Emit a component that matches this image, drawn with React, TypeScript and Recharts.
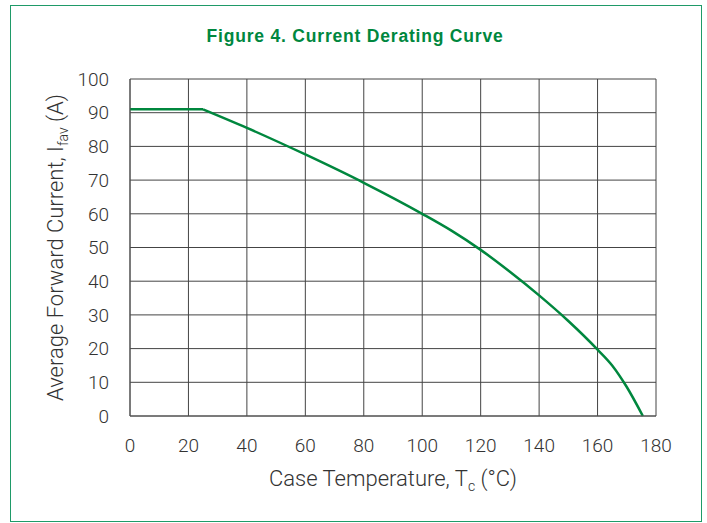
import React from 'react';
import { LineChart, Line, XAxis, YAxis, CartesianGrid } from 'recharts';

// Flat part of the curve (full rated current)
const flatTemp = [0, 25];
const flatCurrent = [91, 91];

// Derating part
const derateTemp = [25, 40, 60, 80, 100, 110, 120, 130, 140, 150, 160, 165, 170, 175.5];
const derateCurrent = [91, 85.5, 77.6, 69.2, 60, 55, 49.3, 42.8, 35.8, 28.2, 19.7, 15, 8.6, 0];

const xTicks = [0, 20, 40, 60, 80, 100, 120, 140, 160, 180];
const yTicks = [0, 10, 20, 30, 40, 50, 60, 70, 80, 90, 100];

const GREEN = '#00873e';
const TEXT = '#333';
const FONT = 'Roboto, "Liberation Sans", Arial, sans-serif';

const flatData = flatTemp.map((t, i) => ({ t, a: flatCurrent[i] }));
const derateData = derateTemp.map((t, i) => ({ t, a: derateCurrent[i] }));

const tickStyle = { fill: TEXT, fontSize: 19, fontFamily: FONT, fontWeight: 300 };

const XLabel = (props: any) => {
  const { viewBox } = props;
  const cx = viewBox.x + viewBox.width / 2;
  return (
    <text x={cx} y={486} textAnchor="middle" fill={TEXT} fontSize={22} fontFamily={FONT} fontWeight={300}>
      Case Temperature, T<tspan fontSize={14} dy={5}>c</tspan>
      <tspan dy={-5}> (°C)</tspan>
    </text>
  );
};

const YLabel = (props: any) => {
  const { viewBox } = props;
  const cy = viewBox.y + viewBox.height / 2;
  return (
    <text
      x={0}
      y={0}
      transform={`translate(63, ${cy}) rotate(-90)`}
      textAnchor="middle"
      fill={TEXT}
      fontSize={22}
      fontFamily={FONT}
      fontWeight={300}
    >
      Average Forward Current, I<tspan fontSize={14} dy={5}>fav</tspan>
      <tspan dy={-5}> (A)</tspan>
    </text>
  );
};

const App: React.FC = () => {
  return (
    <div style={{ position: 'absolute', left: 0, top: 0, width: 707, height: 523, background: '#fff' }}>
      <div
        style={{
          position: 'absolute',
          left: 10,
          top: 5,
          width: 690,
          height: 515,
          border: '1.5px solid #1f9a68',
        }}
      />
      <div
        style={{
          position: 'absolute',
          left: 0,
          top: 26,
          width: 710,
          textAlign: 'center',
          color: GREEN,
          fontFamily: '"Liberation Sans", Arial, sans-serif',
          fontWeight: 700,
          fontSize: 17.5,
          letterSpacing: 0.8,
        }}
      >
        Figure 4. Current Derating Curve
      </div>
      <LineChart
        width={707}
        height={523}
        margin={{ top: 79, right: 51, bottom: 47, left: 50 }}
        style={{ position: 'absolute', left: 0, top: 0 }}
      >
        <CartesianGrid stroke="#444" strokeWidth={1} />
        <XAxis
          type="number"
          dataKey="t"
          domain={[0, 180]}
          ticks={xTicks}
          height={60}
          tickSize={0}
          tickMargin={23}
          axisLine={{ stroke: '#555' }}
          tick={tickStyle}
          allowDataOverflow
          label={<XLabel />}
        />
        <YAxis
          type="number"
          dataKey="a"
          domain={[0, 100]}
          ticks={yTicks}
          width={80}
          tickSize={0}
          tickMargin={21}
          axisLine={{ stroke: '#555' }}
          tick={tickStyle}
          label={<YLabel />}
        />
        <Line
          data={flatData}
          dataKey="a"
          type="linear"
          stroke={GREEN}
          strokeWidth={2.5}
          dot={false}
          isAnimationActive={false}
        />
        <Line
          data={derateData}
          dataKey="a"
          type="monotone"
          stroke={GREEN}
          strokeWidth={2.5}
          dot={false}
          isAnimationActive={false}
        />
      </LineChart>
    </div>
  );
};

export default App;
